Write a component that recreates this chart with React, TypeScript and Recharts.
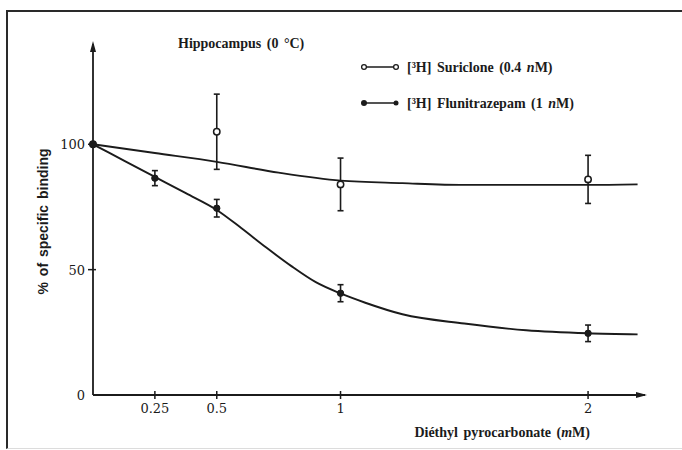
import { ComposedChart, Line, Scatter, XAxis, YAxis, ErrorBar, ReferenceDot, Legend, Label } from "recharts"

// measured points (mean ± error bar half-length), % of specific binding
const suricloneDose = [0, 0.5, 1, 2]
const suricloneMean = [100, 105, 84, 86]
const suricloneErr = [0, 15, 10.5, 9.6]

const fluniDose = [0, 0.25, 0.5, 1, 2]
const fluniMean = [100, 86.5, 74.5, 40.6, 24.6]
const fluniErr = [0, 3, 3.5, 3.4, 3.3]

// hand-drawn fitted curves
const suricloneFitDose = [0, 0.25, 0.5, 0.75, 1, 1.25, 1.5, 2, 2.2]
const suricloneFit = [100, 96.5, 93, 88.7, 85.5, 84.5, 83.8, 83.8, 84]

const fluniFitDose = [0, 0.125, 0.25, 0.375, 0.5, 0.6, 0.7, 0.8, 0.9, 1, 1.1, 1.25, 1.5, 1.75, 2, 2.2]
const fluniFit = [100, 93.5, 87, 80.5, 73.8, 66.5, 58.8, 51.5, 45, 40.5, 36.8, 32.2, 28.5, 25.8, 24.6, 24.2]

const xTicks = [0.25, 0.5, 1, 2]
const xTickLabels = ["0.25", "0.5", "1", "2"]
const yTicks = [0, 50, 100]
const yTickLabels = ["0", "50", "100"]

const ink = "#1b1b1b"
const serif = "'DejaVu Serif', serif"
const boldSerif = "'Liberation Serif', 'Times New Roman', serif"

const suriclonePoints = suricloneDose.map((x, i) => ({ x, y: suricloneMean[i], err: suricloneErr[i] }))
const fluniPoints = fluniDose.map((x, i) => ({ x, y: fluniMean[i], err: fluniErr[i] }))
const suricloneCurve = suricloneFitDose.map((x, i) => ({ x, y: suricloneFit[i] }))
const fluniCurve = fluniFitDose.map((x, i) => ({ x, y: fluniFit[i] }))

function XTick({ x, y, payload }: any) {
  const i = xTicks.indexOf(payload.value)
  return (
    <g>
      <line x1={x} x2={x} y1={y - 4} y2={y + 4} stroke={ink} strokeWidth={1.5} />
      <text x={x} y={y + 18} textAnchor="middle" fontFamily={serif} fontSize={13} fill={ink}>
        {xTickLabels[i]}
      </text>
    </g>
  )
}

function YTick({ x, y, payload }: any) {
  const i = yTicks.indexOf(payload.value)
  return (
    <g>
      {payload.value !== 0 && <line x1={x - 5} x2={x + 3} y1={y} y2={y} stroke={ink} strokeWidth={1.5} />}
      <text x={x - 8} y={y + 5} textAnchor="end" fontFamily={serif} fontSize={13} fill={ink}>
        {yTickLabels[i]}
      </text>
    </g>
  )
}

function OpenDot({ cx, cy }: any) {
  return <circle cx={cx} cy={cy} r={3.2} fill="#fff" stroke={ink} strokeWidth={1.5} />
}

function FilledDot({ cx, cy }: any) {
  return <circle cx={cx} cy={cy} r={3.2} fill={ink} stroke={ink} strokeWidth={1} />
}

function UpArrow({ cx, cy }: any) {
  return <polygon points={`${cx},${cy - 3} ${cx - 3},${cy + 8} ${cx + 3},${cy + 8}`} fill={ink} />
}

function RightArrow({ cx, cy }: any) {
  return <polygon points={`${cx + 2},${cy} ${cx - 9},${cy - 3} ${cx - 9},${cy + 3}`} fill={ink} />
}

function Header() {
  const txt = { fontFamily: boldSerif, fontWeight: "bold" as const, fontSize: 14, fill: ink, wordSpacing: 2 }
  return (
    <svg width={682} height={130}>
      <text x={178} y={48} {...txt}>Hippocampus (0 °C)</text>

      <line x1={363} x2={397} y1={67} y2={67} stroke={ink} strokeWidth={1.5} />
      <circle cx={364} cy={67} r={2.4} fill="#fff" stroke={ink} strokeWidth={1.3} />
      <circle cx={396} cy={67} r={2.4} fill="#fff" stroke={ink} strokeWidth={1.3} />
      <text x={407} y={72} {...txt}>
        [³H] Suriclone (0.4 <tspan fontStyle="italic">n</tspan>M)
      </text>

      <line x1={363} x2={397} y1={103} y2={103} stroke={ink} strokeWidth={1.5} />
      <circle cx={364} cy={103} r={3} fill={ink} />
      <circle cx={396} cy={103} r={2.5} fill={ink} />
      <text x={407} y={108} {...txt}>
        [³H] Flunitrazepam (1 <tspan fontStyle="italic">n</tspan>M)
      </text>
    </svg>
  )
}

export default function App() {
  return (
    <div style={{ position: "absolute", left: 0, top: 0, width: 682, height: 450, background: "#fff" }}>
      <div
        style={{
          position: "absolute",
          left: 6,
          top: 10,
          width: 674,
          height: 436,
          borderTop: "2px solid #2a2a2a",
          borderLeft: "2px solid #2a2a2a",
          borderRight: "1px solid #e2e2e2",
          borderBottom: "1px solid #dcdcdc",
        }}
      />
      <div style={{ position: "absolute", left: 0, top: 0 }}>
        <ComposedChart width={682} height={450} margin={{ top: 44, right: 37, bottom: 25, left: 43 }}>
          <XAxis
            type="number"
            dataKey="x"
            domain={[0, 2.23]}
            ticks={xTicks}
            height={30}
            tickSize={0}
            tickMargin={0}
            tickLine={false}
            tick={<XTick />}
            axisLine={{ stroke: ink, strokeWidth: 1.8 }}
          >
            <Label
              content={({ viewBox }: any) => (
                <text
                  x={(viewBox?.x ?? 93) + (viewBox?.width ?? 552) - 55}
                  y={(viewBox?.y ?? 395) + 42}
                  textAnchor="end"
                  fontFamily={boldSerif}
                  fontWeight="bold"
                  fontSize={14}
                  wordSpacing={2}
                  fill={ink}
                >
                  Diéthyl pyrocarbonate (<tspan fontStyle="italic">m</tspan>M)
                </text>
              )}
            />
          </XAxis>
          <YAxis
            type="number"
            dataKey="y"
            domain={[0, 140]}
            ticks={yTicks}
            width={50}
            tickSize={0}
            tickMargin={0}
            tickLine={false}
            tick={<YTick />}
            axisLine={{ stroke: ink, strokeWidth: 1.8 }}
          >
            <Label
              content={({ viewBox }: any) => {
                const cx = (viewBox?.x ?? 43) + (viewBox?.width ?? 50) - 49
                const cy = (viewBox?.y ?? 44) + (viewBox?.height ?? 351) / 2 + 2
                return (
                  <text
                    x={cx}
                    y={cy}
                    transform={`rotate(-90 ${cx} ${cy})`}
                    textAnchor="middle"
                    dominantBaseline="middle"
                    fontFamily="'Liberation Sans', Arial, sans-serif"
                    fontWeight="bold"
                    fontSize={14}
                    wordSpacing={2}
                    fill={ink}
                  >
                    % of specific binding
                  </text>
                )
              }}
            />
          </YAxis>

          <Line
            data={suricloneCurve}
            dataKey="y"
            type="monotone"
            stroke={ink}
            strokeWidth={1.9}
            dot={false}
            activeDot={false}
            isAnimationActive={false}
          />
          <Line
            data={fluniCurve}
            dataKey="y"
            type="monotone"
            stroke={ink}
            strokeWidth={1.9}
            dot={false}
            activeDot={false}
            isAnimationActive={false}
          />

          <Scatter data={suriclonePoints} dataKey="y" shape={<OpenDot />} isAnimationActive={false}>
            <ErrorBar dataKey="err" direction="y" width={3} stroke={ink} strokeWidth={1.6} />
          </Scatter>
          <Scatter data={fluniPoints} dataKey="y" shape={<FilledDot />} isAnimationActive={false}>
            <ErrorBar dataKey="err" direction="y" width={3} stroke={ink} strokeWidth={1.6} />
          </Scatter>

          <ReferenceDot x={0} y={140} ifOverflow="visible" shape={<UpArrow />} />
          <ReferenceDot x={2.23} y={0} ifOverflow="visible" shape={<RightArrow />} />

          <Legend
            layout="vertical"
            align="center"
            verticalAlign="middle"
            content={() => <Header />}
            wrapperStyle={{ position: "absolute", left: 0, top: 0, width: 682, height: 130, margin: 0, padding: 0 }}
          />
        </ComposedChart>
      </div>
    </div>
  )
}
